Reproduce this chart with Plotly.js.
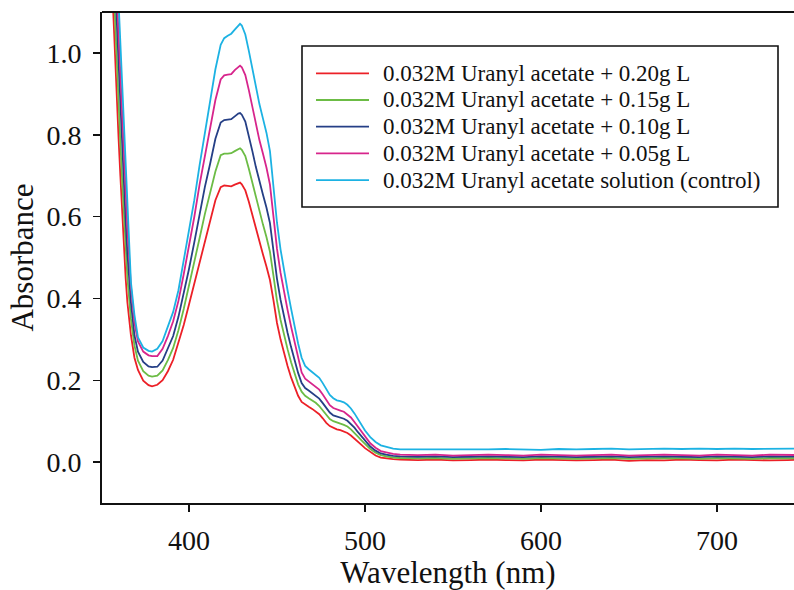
<!DOCTYPE html>
<html>
<head>
<meta charset="utf-8">
<script src="https://cdn.plot.ly/plotly-3.0.1.min.js"></script>
<style>html,body{margin:0;padding:0;background:#fff;}#chart{width:794px;height:590px;}</style>
</head>
<body>
<div id="chart"></div>
<script>
// Wavelength (nm)
const wavelength = [355,357,358,359,360,361,362,363,364,365,366,367,369,371,374,377,379,382,385,388,391,394,397,400,403,406,409,412,415,418,420,422,424,426,428,429,430,432,434,436,438,440,442,444,446,448,450,452,454,456,458,460,462,464,466,468,470,472,474,476,478,480,482,484,486,488,490,492,494,496,498,500,503,506,509,512,516,520,525,530,540,550,560,570,580,590,600,610,620,630,640,650,660,670,680,690,700,710,720,730,740,750];

const seriesNames = [
  "0.032M Uranyl acetate + 0.20g L",
  "0.032M Uranyl acetate + 0.15g L",
  "0.032M Uranyl acetate + 0.10g L",
  "0.032M Uranyl acetate + 0.05g L",
  "0.032M Uranyl acetate solution (control)"
];

// Absorbance, 0.20 g L
const abs020 = [1.30,1.08,0.99,0.89,0.79,0.70,0.61,0.53,0.45,0.39,0.345,0.31,0.255,0.225,0.199,0.188,0.185,0.189,0.200,0.222,0.250,0.290,0.335,0.385,0.435,0.488,0.540,0.590,0.640,0.672,0.676,0.675,0.674,0.678,0.682,0.683,0.679,0.664,0.636,0.603,0.568,0.535,0.508,0.478,0.445,0.395,0.340,0.300,0.265,0.235,0.207,0.182,0.162,0.147,0.140,0.135,0.130,0.124,0.117,0.107,0.096,0.088,0.083,0.080,0.078,0.075,0.071,0.065,0.058,0.050,0.042,0.034,0.024,0.016,0.011,0.009,0.007,0.006,0.005,0.005,0.006,0.004,0.005,0.006,0.005,0.004,0.006,0.005,0.004,0.005,0.006,0.003,0.005,0.004,0.006,0.005,0.004,0.006,0.005,0.004,0.005,0.006];

// Absorbance, 0.15 g L
const abs015 = [1.38,1.17,1.07,0.97,0.87,0.78,0.69,0.60,0.52,0.45,0.40,0.35,0.285,0.248,0.222,0.211,0.209,0.211,0.224,0.249,0.279,0.322,0.374,0.429,0.486,0.547,0.606,0.660,0.710,0.750,0.754,0.754,0.755,0.760,0.766,0.767,0.763,0.748,0.717,0.682,0.644,0.610,0.581,0.550,0.514,0.455,0.394,0.348,0.309,0.276,0.244,0.215,0.190,0.172,0.162,0.156,0.151,0.145,0.137,0.127,0.115,0.105,0.100,0.096,0.094,0.091,0.087,0.080,0.072,0.062,0.053,0.044,0.032,0.023,0.017,0.014,0.011,0.010,0.009,0.009,0.010,0.008,0.009,0.010,0.009,0.008,0.010,0.009,0.008,0.009,0.010,0.008,0.009,0.010,0.009,0.008,0.010,0.009,0.008,0.010,0.009,0.009];

// Absorbance, 0.10 g L
const abs010 = [1.46,1.26,1.16,1.06,0.96,0.86,0.77,0.68,0.59,0.51,0.45,0.39,0.31,0.270,0.245,0.234,0.232,0.233,0.248,0.276,0.308,0.355,0.412,0.472,0.537,0.606,0.672,0.729,0.790,0.830,0.836,0.837,0.838,0.845,0.852,0.853,0.849,0.832,0.798,0.760,0.721,0.685,0.654,0.622,0.584,0.516,0.448,0.397,0.353,0.316,0.281,0.247,0.218,0.193,0.181,0.175,0.169,0.163,0.155,0.144,0.131,0.121,0.114,0.111,0.109,0.106,0.101,0.093,0.084,0.073,0.063,0.052,0.038,0.028,0.021,0.018,0.015,0.014,0.013,0.013,0.014,0.012,0.013,0.014,0.013,0.012,0.014,0.013,0.012,0.013,0.014,0.012,0.013,0.014,0.013,0.012,0.014,0.013,0.012,0.014,0.013,0.013];

// Absorbance, 0.05 g L
const abs005 = [1.53,1.36,1.25,1.14,1.04,0.95,0.85,0.75,0.66,0.57,0.50,0.43,0.34,0.295,0.270,0.261,0.259,0.259,0.277,0.308,0.344,0.394,0.459,0.525,0.599,0.678,0.747,0.815,0.885,0.935,0.945,0.947,0.948,0.958,0.967,0.969,0.965,0.946,0.909,0.867,0.825,0.787,0.754,0.720,0.678,0.598,0.521,0.463,0.413,0.372,0.331,0.291,0.255,0.219,0.204,0.197,0.190,0.184,0.177,0.165,0.151,0.139,0.132,0.128,0.126,0.123,0.117,0.109,0.098,0.086,0.074,0.061,0.046,0.035,0.027,0.024,0.020,0.018,0.017,0.017,0.018,0.016,0.017,0.018,0.017,0.016,0.018,0.017,0.016,0.017,0.018,0.016,0.017,0.018,0.017,0.016,0.018,0.017,0.016,0.018,0.017,0.017];

// Absorbance, control
const absControl = [1.60,1.45,1.33,1.22,1.12,1.02,0.93,0.82,0.72,0.63,0.55,0.44,0.36,0.305,0.280,0.272,0.270,0.277,0.296,0.330,0.367,0.420,0.490,0.560,0.640,0.725,0.805,0.880,0.960,1.020,1.036,1.042,1.047,1.057,1.068,1.071,1.067,1.045,1.005,0.960,0.915,0.875,0.840,0.805,0.760,0.670,0.585,0.520,0.465,0.420,0.375,0.330,0.290,0.255,0.235,0.227,0.220,0.214,0.206,0.193,0.178,0.164,0.156,0.151,0.149,0.146,0.140,0.131,0.119,0.105,0.091,0.077,0.061,0.049,0.041,0.037,0.033,0.031,0.031,0.031,0.031,0.030,0.031,0.031,0.032,0.031,0.030,0.032,0.031,0.032,0.033,0.031,0.032,0.033,0.032,0.033,0.032,0.033,0.032,0.033,0.033,0.033];

const seriesValues = [abs020, abs015, abs010, abs005, absControl];
const seriesColors = ["#ec2027", "#6cbc45", "#253f86", "#d7258c", "#1cb2e3"];

const xTicks = [400, 500, 600, 700];
const yTicks = [0.0, 0.2, 0.4, 0.6, 0.8, 1.0];

const serif = "Liberation Serif, Times New Roman, serif";
const ink = "#111111";

const traces = seriesValues.map((vals, i) => ({
  x: wavelength,
  y: vals,
  type: "scatter",
  mode: "lines",
  name: seriesNames[i],
  showlegend: false,
  line: {color: seriesColors[i], width: 1.8}
}));

// Plot-area geometry in pixels (for placing the boxed key in paper coordinates)
const W = 794, H = 590;
const M = {l: 102, r: 0, t: 12, b: 87};
const plotW = W - M.l - M.r, plotH = H - M.t - M.b;
const px = x => (x - M.l) / plotW;
const py = y => (H - M.b - y) / plotH;

const key = {left: 302, right: 778, top: 46, bottom: 207, lineX0: 316, lineX1: 369, textX: 381, row0: 73.3, rowStep: 26.7};

const shapes = [
  {type: "line", xref: "paper", yref: "paper", x0: 0, x1: 1, y0: 1, y1: 1, line: {color: ink, width: 2}},
  {type: "rect", xref: "paper", yref: "paper", x0: px(key.left), x1: px(key.right), y0: py(key.bottom), y1: py(key.top),
   line: {color: ink, width: 1.6}, fillcolor: "#ffffff", layer: "above"}
];
const annotations = [];
seriesNames.forEach((name, i) => {
  const yy = py(key.row0 + i * key.rowStep);
  shapes.push({type: "line", xref: "paper", yref: "paper", x0: px(key.lineX0), x1: px(key.lineX1), y0: yy, y1: yy,
    line: {color: seriesColors[i], width: 1.8}, layer: "above"});
  annotations.push({xref: "paper", yref: "paper", x: px(key.textX), y: yy, xanchor: "left", yanchor: "middle",
    text: name, showarrow: false, font: {family: serif, size: 23, color: ink}});
});

const layout = {
  width: W,
  height: H,
  margin: {l: M.l, r: M.r, t: M.t, b: M.b, pad: 0},
  paper_bgcolor: "#ffffff",
  plot_bgcolor: "#ffffff",
  font: {family: serif, color: ink},
  showlegend: false,
  xaxis: {
    range: [350.57, 743.75],
    tickvals: xTicks,
    ticktext: xTicks.map(v => String(v)),
    ticks: "outside", ticklen: 7, tickwidth: 1.5, tickcolor: ink,
    showline: true, linecolor: ink, linewidth: 2, mirror: false,
    showgrid: false, zeroline: false,
    tickfont: {family: serif, size: 28, color: ink},
    ticklabelstandoff: 4,
    title: {text: "Wavelength (nm)", font: {family: serif, size: 31, color: ink}, standoff: 13}
  },
  yaxis: {
    range: [-0.1, 1.1],
    tickvals: yTicks,
    ticktext: yTicks.map(v => v.toFixed(1)),
    ticks: "outside", ticklen: 7, tickwidth: 1.5, tickcolor: ink,
    showline: true, linecolor: ink, linewidth: 2,
    showgrid: false, zeroline: false,
    tickfont: {family: serif, size: 28, color: ink},
    ticklabelstandoff: 6,
    title: {text: "Absorbance", font: {family: serif, size: 31, color: ink}, standoff: 4}
  },
  shapes: shapes,
  annotations: annotations
};

Plotly.newPlot("chart", traces, layout, {staticPlot: true, displayModeBar: false});
</script>
</body>
</html>
